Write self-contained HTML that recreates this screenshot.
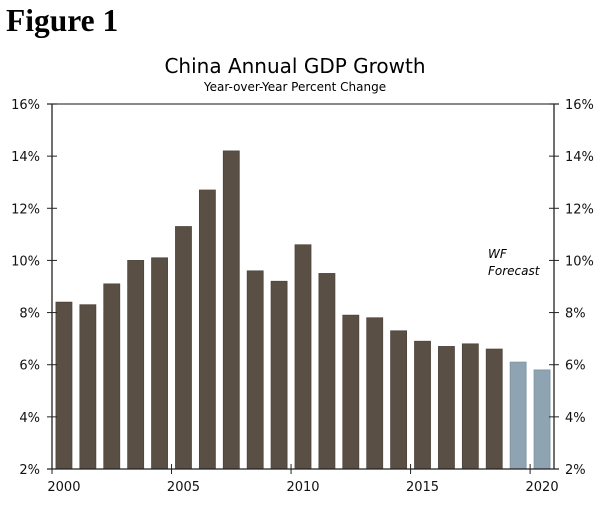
<!DOCTYPE html>
<html><head><meta charset="utf-8"><style>
body{margin:0;background:#fff;width:600px;height:502px;overflow:hidden}
svg text{font-family:"DejaVu Sans","Liberation Sans",sans-serif}
</style></head><body>
<svg width="600" height="502">
<text x="6" y="31" font-weight="bold" font-size="31.5" style="font-family:'Liberation Serif',serif">Figure 1</text>
<text x="295" y="73" text-anchor="middle" font-size="20">China Annual GDP Growth</text>
<text x="295" y="91" text-anchor="middle" font-size="12">Year-over-Year Percent Change</text>
<text x="488" y="258" font-size="12" font-style="italic">WF</text>
<text x="488" y="275" font-size="12" font-style="italic">Forecast</text>
<g id="bars"></g><g id="axes"></g>
</svg>
<script>
const years=[2000,2001,2002,2003,2004,2005,2006,2007,2008,2009,2010,2011,2012,2013,2014,2015,2016,2017,2018,2019,2020];
const growth=[8.4,8.3,9.1,10.0,10.1,11.3,12.7,14.2,9.6,9.2,10.6,9.5,7.9,7.8,7.3,6.9,6.7,6.8,6.6,6.1,5.8];
const forecastFrom=2019;
const yTicks=[2,4,6,8,10,12,14,16];
const xLabels=[2000,2005,2010,2015,2020];
const NS='http://www.w3.org/2000/svg';
const L=52,R=554,T=104,B=469,ymin=2,ymax=16;
const bw=(R-L)/years.length;
const y=v=>B-(v-ymin)/(ymax-ymin)*(B-T);
const xc=i=>L+(i+0.5)*bw;
function mk(t,a,p){const e=document.createElementNS(NS,t);for(const k in a)e.setAttribute(k,a[k]);p.appendChild(e);return e;}
const bars=document.getElementById('bars'),axes=document.getElementById('axes');
years.forEach((yr,i)=>{const f=yr>=forecastFrom;
const r=mk('rect',{x:xc(i)-8,y:y(growth[i]),width:16,height:B-y(growth[i]),fill:f?'#8fa4b3':'#5a4f45',stroke:f?'#7d919f':'#4e443b','stroke-width':0.8},bars);

});
mk('line',{x1:L,y1:T,x2:L,y2:B,stroke:'#222','stroke-width':1.3},axes);
mk('line',{x1:R,y1:T,x2:R,y2:B,stroke:'#222','stroke-width':1.3},axes);
mk('line',{x1:L-5,y1:T,x2:R+5,y2:T,stroke:'#444','stroke-width':1.3},axes);
mk('line',{x1:L-5,y1:B,x2:R+5,y2:B,stroke:'#222','stroke-width':1.3},axes);
yTicks.forEach(v=>{
mk('line',{x1:L-5,y1:y(v),x2:L+5,y2:y(v),stroke:'#222'},axes);
mk('line',{x1:R-5,y1:y(v),x2:R+5,y2:y(v),stroke:'#222'},axes);
const a=mk('text',{x:40,y:y(v)+5,'text-anchor':'end','font-size':13,fill:'#111'},axes);a.textContent=v+'%';


const b=mk('text',{x:565,y:y(v)+5,'font-size':13,fill:'#111'},axes);b.textContent=v+'%';

});
xLabels.forEach(yr=>{const i=years.indexOf(yr);
mk('line',{x1:L+i*bw,y1:B-5,x2:L+i*bw,y2:B+5,stroke:'#222'},axes);
const t=mk('text',{x:xc(i),y:B+22,'text-anchor':'middle','font-size':13,fill:'#111'},axes);t.textContent=yr;

});
</script>
</body></html>
